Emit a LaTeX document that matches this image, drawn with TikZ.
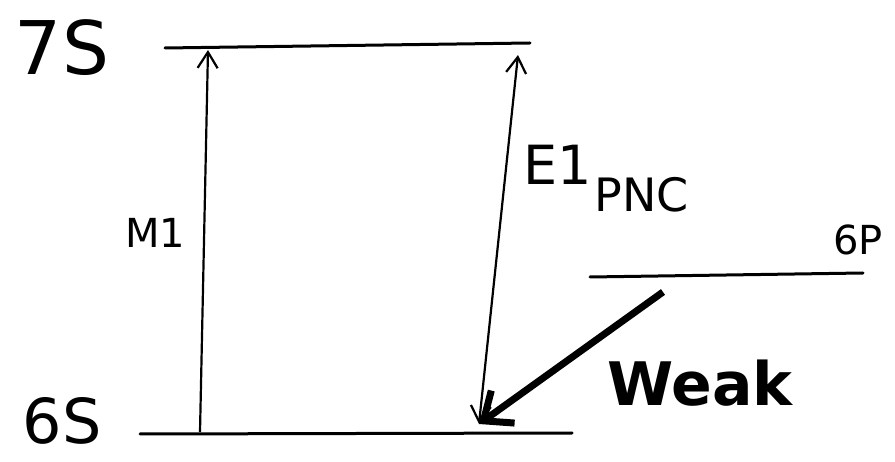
\documentclass[tikz,border=0pt]{standalone}
\usepackage{fontspec}
\setmainfont{DejaVu Sans}
\usetikzlibrary{arrows.meta,positioning}

\tikzset{
  level/.style={line width=3pt, line cap=round},
  trans/.style={line width=2.2pt, -{Straight Barb[length=16pt,width=20pt]}},
  lbl/.style={inner sep=0pt, anchor=center},
}

\begin{document}
\begin{tikzpicture}[x=1pt,y=-1pt]
\useasboundingbox (0,0) rectangle (895,462);

% energy levels
\coordinate (s7a) at (165,48);
\coordinate (s7b) at (530,43);
\coordinate (s6a) at (140,434);
\coordinate (s6b) at (572,433);
\coordinate (p6a) at (590,277);
\coordinate (p6b) at (863,273);
\draw[level] (s7a) -- (s7b);
\draw[level] (s6a) -- (s6b);
\draw[level] (p6a) -- (p6b);

\node[lbl, font=\fontsize{74}{80}\selectfont] (lab7s) at (62,48) {7S};
\node[lbl, anchor=base, font=\fontsize{62}{68}\selectfont] (lab6s) at (62,443) {6S};
\node[lbl, font=\fontsize{40}{44}\selectfont] (lab6p) at (858,240) {6P};

% transitions
\coordinate (m1lo) at (200,432);
\coordinate (m1up) at (208,50);
\draw[trans] (m1lo) -- (m1up);
\node[lbl, font=\fontsize{40}{44}\selectfont] (labm1) at (155,233) {M1};

\coordinate (e1up) at (518,55);
\coordinate (e1lo) at (479,424);
\draw[trans, {Straight Barb[length=16pt,width=20pt]}-{Straight Barb[length=16pt,width=20pt]}] (e1lo) -- (e1up);
\node[lbl, font=\fontsize{54}{58}\selectfont] (labe1) at (558,165) {E1};
\node[lbl, font=\fontsize{46}{50}\selectfont, below right=-8pt and 2pt of labe1] (labpnc) {PNC};

\coordinate (wk) at (663,292);
\draw[line width=7pt, -{Straight Barb[length=24pt,width=40pt]}] (wk) -- (e1lo);
\node[lbl, font=\bfseries\fontsize{60}{64}\selectfont] (labweak) at (700,383) {Weak};
\end{tikzpicture}
\end{document}
